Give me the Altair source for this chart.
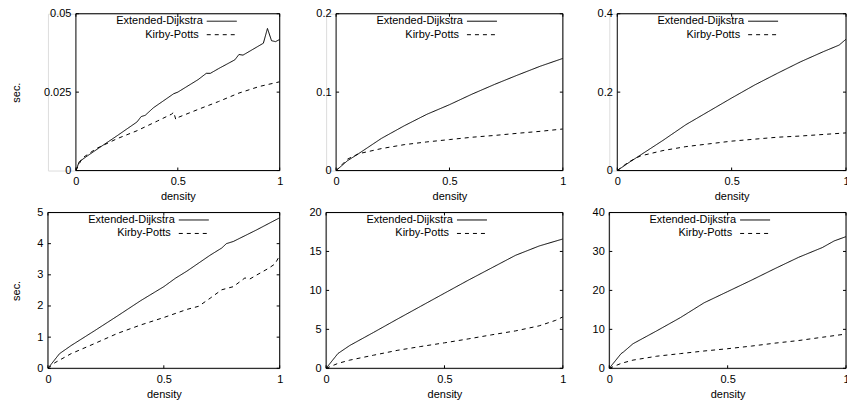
import altair as alt
import pandas as pd

FONT = "Liberation Sans"
SERIES = ["Extended-Dijkstra", "Kirby-Potts"]

# ---- data ----
p1_ed_x = [0, 0.016, 0.057, 0.12, 0.2, 0.3, 0.32, 0.34, 0.38, 0.48, 0.5, 0.6, 0.64, 0.66, 0.7, 0.78, 0.8, 0.82, 0.92, 0.94, 0.96, 0.98, 1.0]
p1_ed_y = [0, 0.0028, 0.0047, 0.0075, 0.011, 0.0155, 0.0172, 0.0176, 0.0200, 0.0245, 0.025, 0.0290, 0.0310, 0.0310, 0.0325, 0.0353, 0.0370, 0.0368, 0.0406, 0.0453, 0.0414, 0.0411, 0.0418]
p1_kp_x = [0, 0.03, 0.1, 0.2, 0.3, 0.4, 0.47, 0.48, 0.49, 0.5, 0.6, 0.7, 0.8, 0.9, 1.0]
p1_kp_y = [0, 0.0039, 0.0070, 0.0101, 0.0127, 0.0158, 0.0180, 0.0186, 0.0163, 0.0169, 0.0195, 0.0220, 0.0247, 0.0268, 0.0283]

p2_ed_x = [0, 0.05, 0.1, 0.2, 0.3, 0.4, 0.5, 0.6, 0.7, 0.8, 0.9, 1.0]
p2_ed_y = [0, 0.0125, 0.0217, 0.041, 0.057, 0.0717, 0.084, 0.0975, 0.110, 0.1217, 0.133, 0.143]
p2_kp_x = [0, 0.05, 0.1, 0.2, 0.3, 0.4, 0.5, 0.6, 0.7, 0.8, 0.9, 1.0]
p2_kp_y = [0, 0.0145, 0.0215, 0.028, 0.033, 0.0365, 0.0395, 0.0425, 0.0448, 0.0475, 0.050, 0.053]

p3_ed_x = [0, 0.05, 0.1, 0.2, 0.3, 0.4, 0.5, 0.6, 0.7, 0.8, 0.9, 0.97, 1.0]
p3_ed_y = [0, 0.02, 0.039, 0.077, 0.117, 0.151, 0.185, 0.218, 0.248, 0.277, 0.303, 0.320, 0.335]
p3_kp_x = [0, 0.05, 0.1, 0.2, 0.3, 0.4, 0.5, 0.6, 0.7, 0.8, 0.9, 1.0]
p3_kp_y = [0, 0.022, 0.037, 0.051, 0.061, 0.068, 0.075, 0.080, 0.085, 0.088, 0.092, 0.096]

p4_ed_x = [0, 0.05, 0.1, 0.2, 0.3, 0.4, 0.5, 0.55, 0.6, 0.7, 0.75, 0.77, 0.8, 0.9, 1.0]
p4_ed_y = [0, 0.47, 0.73, 1.2, 1.68, 2.17, 2.62, 2.89, 3.12, 3.63, 3.86, 4.0, 4.07, 4.44, 4.83]
p4_kp_x = [0, 0.03, 0.1, 0.2, 0.3, 0.4, 0.5, 0.6, 0.65, 0.7, 0.75, 0.8, 0.85, 0.87, 0.9, 0.95, 0.98, 1.0]
p4_kp_y = [0, 0.18, 0.47, 0.79, 1.12, 1.39, 1.63, 1.89, 1.99, 2.25, 2.52, 2.62, 2.9, 2.86, 2.99, 3.2, 3.35, 3.62]

p5_ed_x = [0, 0.05, 0.1, 0.2, 0.3, 0.4, 0.5, 0.6, 0.7, 0.8, 0.9, 1.0]
p5_ed_y = [0, 1.9, 2.93, 4.6, 6.3, 7.97, 9.64, 11.3, 12.9, 14.5, 15.7, 16.6]
p5_kp_x = [0, 0.05, 0.1, 0.2, 0.3, 0.4, 0.5, 0.6, 0.7, 0.8, 0.9, 0.97, 1.0]
p5_kp_y = [0, 0.63, 1.05, 1.68, 2.3, 2.8, 3.27, 3.77, 4.3, 4.8, 5.45, 6.16, 6.6]

p6_ed_x = [0, 0.05, 0.06, 0.1, 0.2, 0.3, 0.4, 0.5, 0.6, 0.7, 0.8, 0.9, 0.95, 1.0]
p6_ed_y = [0, 3.77, 4.2, 6.3, 9.6, 13.0, 16.8, 19.7, 22.6, 25.6, 28.5, 31.0, 32.7, 33.8]
p6_kp_x = [0, 0.05, 0.1, 0.2, 0.3, 0.4, 0.5, 0.6, 0.7, 0.8, 0.9, 1.0]
p6_kp_y = [0, 1.26, 2.1, 3.1, 3.77, 4.44, 5.03, 5.7, 6.46, 7.13, 7.97, 8.8]

x_ticks = [0, 0.5, 1]
y_ticks = [
    [0, 0.025, 0.05],
    [0, 0.1, 0.2],
    [0, 0.2, 0.4],
    [0, 1, 2, 3, 4, 5],
    [0, 5, 10, 15, 20],
    [0, 10, 20, 30, 40],
]

panels_data = [
    (p1_ed_x, p1_ed_y, p1_kp_x, p1_kp_y),
    (p2_ed_x, p2_ed_y, p2_kp_x, p2_kp_y),
    (p3_ed_x, p3_ed_y, p3_kp_x, p3_kp_y),
    (p4_ed_x, p4_ed_y, p4_kp_x, p4_kp_y),
    (p5_ed_x, p5_ed_y, p5_kp_x, p5_kp_y),
    (p6_ed_x, p6_ed_y, p6_kp_x, p6_kp_y),
]

# layout (pixels): cell sizes per column / row, and where each frame starts inside its cell
col_w = [232, 237, 237]
row_h = [157, 156]
x_start = [28, 10, 8, 0, 0, 0]
title_x = {0: -54, 3: -26}
COL_SPACING = 46.5
ROW_SPACING = 42

dash_scale = alt.Scale(domain=SERIES, range=[[1, 0], [4, 4]])


def panel(i):
    ex, ey, kx, ky = panels_data[i]
    W = col_w[i % 3]
    H = row_h[i // 3]
    x0 = x_start[i]
    yt = y_ticks[i]
    ymax = yt[-1]
    df = pd.concat([
        pd.DataFrame({"density": ex, "sec": ey, "series": SERIES[0]}),
        pd.DataFrame({"density": kx, "sec": ky, "series": SERIES[1]}),
    ])
    xs = alt.Scale(domain=[0, 1], nice=False, zero=False, range=[x0, W])
    ys = alt.Scale(domain=[0, ymax], nice=False, zero=False)
    yaxis_kw = dict(values=yt, labelExpr="'' + datum.value", ticks=False, tickSize=0,
                    domain=False, grid=False, labelPadding=5, labelFont=FONT,
                    labelFontSize=11, labelColor="black", labelOverlap=False, labelFlush=False,
                    offset=-x0)
    if i in title_x:
        yaxis_kw.update(title="sec.", titleFont=FONT, titleFontSize=11, titleFontWeight="normal",
                        titleColor="black", titleX=title_x[i])
    else:
        yaxis_kw.update(title=None)
    yaxis = alt.Axis(**yaxis_kw)
    xaxis = alt.Axis(values=x_ticks, labelExpr="'' + datum.value", ticks=False, tickSize=0,
                     domain=False, grid=False, labelPadding=5, labelFont=FONT, labelFontSize=11,
                     labelColor="black", labelOverlap=False, labelFlush=False,
                     title="density", titleFont=FONT, titleFontSize=11,
                     titleFontWeight="normal", titleColor="black", titlePadding=4)
    ytitle = "sec." if i in title_x else ""
    lines = alt.Chart(df).mark_line(color="black", strokeWidth=1, clip=True).encode(
        x=alt.X("density:Q", scale=xs, axis=xaxis, title="density"),
        y=alt.Y("sec:Q", scale=ys, axis=yaxis, title=ytitle),
        strokeDash=alt.StrokeDash("series:N", scale=dash_scale, legend=None),
        detail="series:N",
    )
    frame = alt.Chart(pd.DataFrame({"density": [0], "b": [1], "sec": [0], "d": [ymax]})).mark_rect(
        fillOpacity=0, stroke="black", strokeWidth=1).encode(
        x=alt.X("density:Q", scale=xs, axis=xaxis, title="density"), x2="b:Q",
        y=alt.Y("sec:Q", scale=ys, axis=yaxis, title=ytitle), y2="d:Q")
    xt = pd.DataFrame({"density": x_ticks})
    ytd = pd.DataFrame({"sec": yt})
    tk = 3
    t_bottom = alt.Chart(xt).mark_rule(color="black", strokeWidth=1).encode(
        x=alt.X("density:Q", scale=xs, axis=xaxis, title="density"),
        y=alt.value(H), y2=alt.value(H - tk))
    t_top = alt.Chart(xt).mark_rule(color="black", strokeWidth=1).encode(
        x=alt.X("density:Q", scale=xs, axis=xaxis, title="density"),
        y=alt.value(0), y2=alt.value(tk))
    t_left = alt.Chart(ytd).mark_rule(color="black", strokeWidth=1).encode(
        y=alt.Y("sec:Q", scale=ys, axis=yaxis, title=ytitle),
        x=alt.value(x0), x2=alt.value(x0 + tk))
    t_right = alt.Chart(ytd).mark_rule(color="black", strokeWidth=1).encode(
        y=alt.Y("sec:Q", scale=ys, axis=yaxis, title=ytitle),
        x=alt.value(W), x2=alt.value(W - tk))

    # key, gnuplot style: label then line sample
    key_layers = []
    rows_y = [7.5, 21]
    text_right = [127, 123]
    for k, name in enumerate(SERIES):
        kd = pd.DataFrame({"series": [name]})
        key_layers.append(alt.Chart(kd).mark_text(align="right", baseline="middle", font=FONT,
                                                  fontSize=11, color="black").encode(
            text="series:N", x=alt.value(x0 + text_right[k]), y=alt.value(rows_y[k])))
        key_layers.append(alt.Chart(kd).mark_rule(color="black", strokeWidth=1).encode(
            x=alt.value(x0 + 131), x2=alt.value(x0 + 161), y=alt.value(rows_y[k]),
            strokeDash=alt.StrokeDash("series:N", scale=dash_scale, legend=None)))

    return alt.layer(lines, frame, t_bottom, t_top, t_left, t_right, *key_layers).properties(
        width=W, height=H)


chart = alt.concat(
    *[panel(i) for i in range(6)],
    columns=3,
    bounds="flush",
    spacing={"row": ROW_SPACING, "column": COL_SPACING},
).properties(
    padding={"left": 2, "top": -1.5, "right": -3, "bottom": 0}
).configure_view(strokeWidth=0).configure(background="white")

chart.save("out.html", embed_options={"renderer": "svg", "actions": False})
